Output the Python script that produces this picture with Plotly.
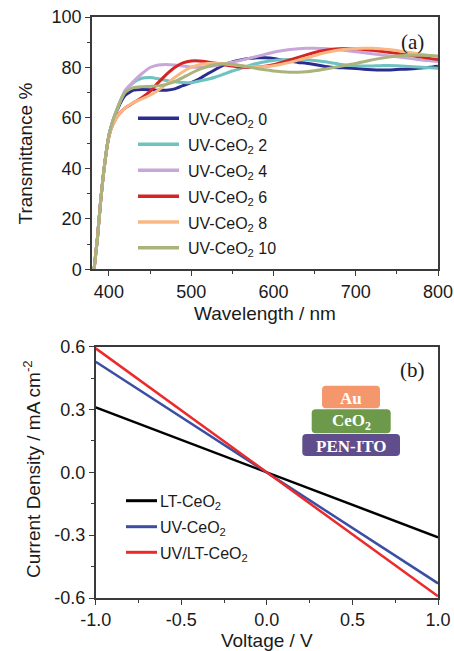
import plotly.graph_objects as go

# ---------------- panel (a): transmittance spectra ----------------
wl = [382, 386, 390, 395, 400, 405, 410, 415, 420, 430, 440, 450, 460, 470, 480,
      490, 500, 510, 520, 530, 540, 550, 560, 570, 580, 590, 600, 610, 620, 630,
      640, 650, 660, 670, 680, 690, 700, 710, 720, 730, 740, 750, 760, 770, 780,
      790, 800]

t_uv0 = [0, 12, 27, 42, 53, 59, 63, 66.5, 69, 71, 71.3, 71.2, 71, 71, 71.5,
         72.8, 74, 75.5, 77.5, 79.3, 81, 82.2, 83, 83.6, 83.8, 83.8, 83.6, 83, 82.5, 82,
         81.7, 81.2, 80.6, 80.1, 79.9, 79.8, 79.6, 79.3, 79.1, 79, 79, 79.2, 79.3, 79.5, 79.8,
         80.1, 80.5]
t_uv2 = [0, 12, 27, 42, 53, 59, 63.5, 67.5, 70.5, 74, 75.7, 76, 75.5, 74.8, 74.3,
         74, 74, 74.6, 75.3, 76.2, 77.4, 78.6, 79.6, 80.7, 81.6, 82.3, 82.8, 83.1, 83.2, 83.2,
         83.1, 82.8, 82.4, 81.9, 81.3, 80.9, 80.7, 80.6, 80.6, 80.7, 80.8, 80.7, 80.5, 80.3, 80.1,
         79.9, 79.7]
t_uv4 = [0, 12, 27, 42, 53, 59, 63.5, 67.5, 71, 74.5, 77.5, 80, 81, 81.2, 81,
         80.6, 80.2, 80.1, 80.3, 80.8, 81.4, 82.1, 82.8, 83.6, 84.4, 85.2, 86, 86.6, 87.1, 87.4,
         87.6, 87.6, 87.5, 87.3, 87, 86.6, 86.2, 85.8, 85.4, 85, 84.6, 84.2, 83.8, 83.4, 83,
         82.7, 82.4]
t_uv6 = [0, 12, 27, 42, 52.5, 57.5, 60.5, 62.5, 64, 66, 68, 70.5, 74, 77.3, 80,
         81.8, 82.6, 82.6, 82.2, 81.7, 81.1, 80.6, 80.2, 80, 80.1, 80.5, 81.1, 82, 83, 84,
         85, 85.9, 86.6, 87.1, 87.4, 87.5, 87.4, 87.1, 86.8, 86.4, 86, 85.6, 85.1, 84.6, 84.1,
         83.6, 83.1]
t_uv8 = [0, 12, 27, 42, 52.5, 57.5, 60.5, 62.5, 64, 66, 67.5, 69, 71, 73.4, 76,
         78.3, 80, 81.1, 81.6, 81.7, 81.5, 81.1, 80.7, 80.4, 80.3, 80.4, 80.7, 81.3, 82, 82.9,
         83.8, 84.7, 85.6, 86.3, 86.9, 87.3, 87.5, 87.6, 87.6, 87.4, 87.1, 86.7, 86.2, 85.7, 85.2,
         84.7, 84.2]
t_uv10 = [0, 12, 27, 42, 53, 59, 63.5, 67.5, 70.2, 72, 72.4, 72.5, 72.7, 73.3, 74.4,
          76, 77.7, 79.2, 80.4, 81.2, 81.5, 81.3, 80.8, 80.2, 79.6, 79.1, 78.6, 78.3, 78.1, 78.1,
          78.3, 78.7, 79.2, 79.8, 80.4, 81, 81.6, 82.3, 83, 83.6, 84.1, 84.5, 84.7, 84.8, 84.8,
          84.7, 84.5]

spectra_names = ["UV-CeO<sub>2</sub> 0", "UV-CeO<sub>2</sub> 2", "UV-CeO<sub>2</sub> 4",
                 "UV-CeO<sub>2</sub> 6", "UV-CeO<sub>2</sub> 8", "UV-CeO<sub>2</sub> 10"]
spectra = [t_uv0, t_uv2, t_uv4, t_uv6, t_uv8, t_uv10]
spectra_colors = ["#2b2d8e", "#6cc3c0", "#c9a6d8", "#d62424", "#f8b883", "#aab37c"]

# ---------------- panel (b): J-V curves ----------------
voltage = [-1.0, -0.5, 0.0, 0.5, 1.0]
j_lt = [0.31, 0.155, 0.0, -0.155, -0.31]
j_uv = [0.528, 0.264, 0.0, -0.264, -0.53]
j_uvlt = [0.592, 0.296, 0.0, -0.296, -0.592]

jv_names = ["LT-CeO<sub>2</sub>", "UV-CeO<sub>2</sub>", "UV/LT-CeO<sub>2</sub>"]
jv_data = [j_lt, j_uv, j_uvlt]
jv_colors = ["#000000", "#3a4fa3", "#ec2a2a"]

# device stack labels (top to bottom)
stack_labels = ["Au", "CeO<sub>2</sub>", "PEN-ITO"]
stack_colors = ["#f4976c", "#6c9a4a", "#5f4d8c"]

# ---------------- figure geometry ----------------
W, H = 454, 651
ML, MR, MT, MB = 92, 16, 17, 53
PW, PH = W - ML - MR, H - MT - MB


def px(x):
    return (x - ML) / PW


def py(y):
    return (H - MB - y) / PH


fig = go.Figure()

for name, vals, col in zip(spectra_names, spectra, spectra_colors):
    fig.add_trace(go.Scatter(
        x=wl, y=vals, mode="lines", name=name, showlegend=False,
        line=dict(color=col, width=3, shape="spline", smoothing=0.6),
        xaxis="x", yaxis="y",
    ))

for name, vals, col in zip(jv_names, jv_data, jv_colors):
    fig.add_trace(go.Scatter(
        x=voltage, y=vals, mode="lines", name=name, showlegend=False,
        line=dict(color=col, width=2.5),
        xaxis="x2", yaxis="y2",
    ))

font_main = "Liberation Sans, Arial, sans-serif"
font_serif = "Liberation Serif, Times New Roman, serif"
INK = "#1a1a1a"
axis_common = dict(
    showline=True, linecolor="#3a3a3a", linewidth=1.5, mirror=True,
    ticks="outside", ticklen=5, tickwidth=1.2, tickcolor="#3a3a3a",
    showgrid=False, zeroline=False, automargin=False,
    tickfont=dict(family=font_main, size=18, color=INK),
)
minor_common = dict(ticks="outside", ticklen=3, tickwidth=1, tickcolor="#3a3a3a")

fig.update_layout(
    width=W, height=H,
    margin=dict(l=ML, r=MR, t=MT, b=MB),
    paper_bgcolor="white", plot_bgcolor="white",
    font=dict(family=font_main, color=INK),
    showlegend=False,
    xaxis=dict(
        **axis_common, domain=[0, 1], anchor="y", range=[379.5, 800],
        tickvals=[400, 500, 600, 700, 800],
        minor=dict(dtick=50, tick0=0, **minor_common),
        title=dict(text="Wavelength / nm", font=dict(size=19), standoff=6),
    ),
    yaxis=dict(
        **axis_common, domain=[py(269.3), 1], anchor="x", range=[0, 100],
        tickvals=[0, 20, 40, 60, 80, 100],
        minor=dict(dtick=10, tick0=0, **minor_common),
    ),
    xaxis2=dict(
        **axis_common, domain=[px(95.7), 1], anchor="y2", range=[-1, 1],
        tickvals=[-1, -0.5, 0, 0.5, 1], ticktext=["-1.0", "-0.5", "0.0", "0.5", "1.0"],
        minor=dict(dtick=0.25, tick0=0, **minor_common),
        title=dict(text="Voltage / V", font=dict(size=19), standoff=7),
    ),
    yaxis2=dict(
        **axis_common, domain=[0, py(346.7)], anchor="x2", range=[-0.6, 0.6],
        tickvals=[-0.6, -0.3, 0, 0.3, 0.6], ticktext=["-0.6", "-0.3", "0.0", "0.3", "0.6"],
        minor=dict(dtick=0.15, tick0=0, **minor_common),
    ),
)

# vertical axis titles
fig.add_annotation(x=px(37), y=py(153), xref="paper", yref="paper", text="Transmittance %",
                   textangle=-90, xanchor="right", yanchor="middle", showarrow=False,
                   font=dict(family=font_main, size=19, color=INK))
fig.add_annotation(x=px(46), y=py(469), xref="paper", yref="paper",
                   text="Current Density / mA cm<sup>-2</sup>",
                   textangle=-90, xanchor="right", yanchor="middle", showarrow=False,
                   font=dict(family=font_main, size=19, color=INK))


def legend_block(names, colors, key_x0, key_x1, text_x, rows_y, width):
    for name, col, yy in zip(names, colors, rows_y):
        fig.add_shape(type="line", xref="paper", yref="paper",
                      x0=px(key_x0), x1=px(key_x1), y0=py(yy), y1=py(yy),
                      line=dict(color=col, width=width))
        fig.add_annotation(x=px(text_x), y=py(yy + 2), xref="paper", yref="paper",
                           xanchor="left", yanchor="middle", text=name, showarrow=False,
                           font=dict(family=font_main, size=16, color=INK))


legend_block(spectra_names, spectra_colors, 138, 179, 186,
             [118.3, 144.3, 170.3, 196.3, 222.0, 247.7], 3.5)
legend_block(jv_names, jv_colors, 126, 157, 158, [500.7, 526.7, 552.3], 3)

# panel letters
for letter, yy in (("(a)", 42), ("(b)", 370)):
    fig.add_annotation(x=px(412), y=py(yy), xref="paper", yref="paper", text=letter,
                       xanchor="center", yanchor="middle", showarrow=False,
                       font=dict(family=font_serif, size=21, color=INK))


# device stack sketch: rounded boxes with labels
def rounded_box(x0, y0, x1, y1, r, color):
    X0, X1 = px(x0), px(x1)
    Y0, Y1 = py(y1), py(y0)  # bottom, top in paper units
    rx, ry = r / PW, r / PH
    path = (f"M {X0+rx},{Y0} L {X1-rx},{Y0} Q {X1},{Y0} {X1},{Y0+ry} "
            f"L {X1},{Y1-ry} Q {X1},{Y1} {X1-rx},{Y1} "
            f"L {X0+rx},{Y1} Q {X0},{Y1} {X0},{Y1-ry} "
            f"L {X0},{Y0+ry} Q {X0},{Y0} {X0+rx},{Y0} Z")
    fig.add_shape(type="path", path=path, xref="paper", yref="paper",
                  fillcolor=color, line=dict(width=0), layer="above")


stack_boxes = [(322, 385.7, 380, 408.3), (311.7, 409.3, 390.7, 433.3), (302.3, 434.0, 400, 456.0)]
for label, col, (x0, y0, x1, y1) in zip(stack_labels, stack_colors, stack_boxes):
    rounded_box(x0, y0, x1, y1, 4, col)
    fig.add_annotation(x=px((x0 + x1) / 2), y=py((y0 + y1) / 2 + 1), xref="paper", yref="paper",
                       xanchor="center", yanchor="middle",
                       text=f"<b>{label}</b>", showarrow=False,
                       font=dict(family=font_serif, size=17, color="white"))

fig.write_html("out.html")
